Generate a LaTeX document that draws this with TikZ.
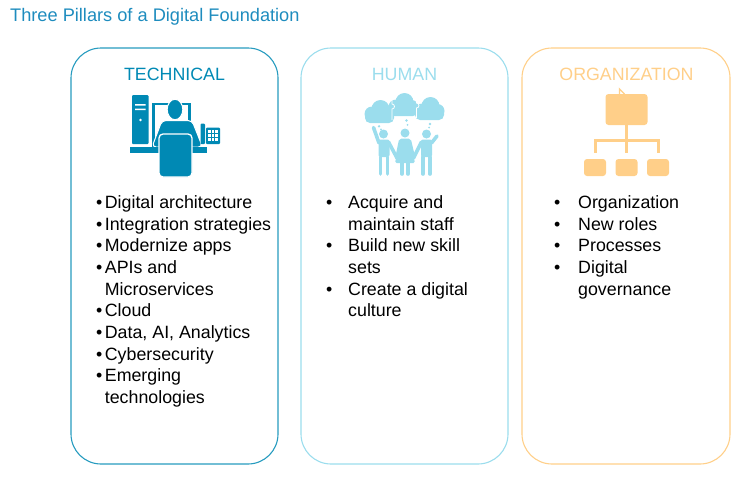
\documentclass[tikz,border=0pt]{standalone}
\usepackage{fontspec}
\setmainfont{Liberation Sans}

\definecolor{titleblue}{RGB}{30,140,190}
\definecolor{techblue}{RGB}{0,137,180}
\definecolor{humanblue}{RGB}{155,221,237}
\definecolor{orgorange}{RGB}{255,207,137}

\tikzstyle{pillar}=[rounded corners=30pt,line width=1.1pt,minimum width=207pt,minimum height=416pt,inner sep=0pt]
\tikzstyle{header}=[font=\fontsize{17.8}{21}\selectfont,anchor=base,inner sep=0pt]
\tikzstyle{bullets}=[font=\fontsize{17.8}{21.7}\selectfont,anchor=base west,inner sep=0pt]
\tikzstyle{limb}=[draw=humanblue,line width=3.6pt,line cap=round]
\tikzstyle{orgbox}=[fill=orgorange,rounded corners=3pt,inner sep=0pt]
\tikzstyle{orgline}=[draw=orgorange,line width=3pt]

\newcommand{\bul}[1]{\makebox[#1][l]{\textbullet}}

\begin{document}
\begin{tikzpicture}[x=1pt,y=-1pt]
		\useasboundingbox (0,0) rectangle (742,477);
		\node[font=\fontsize{18.2}{21}\selectfont,text=titleblue,anchor=base west,inner sep=0pt] (title) at (10,21.7) {Three Pillars of a Digital Foundation};
		% the three pillars
		\node[pillar,draw=techblue!85] (techframe) at (174.5,256) {};
		\node[pillar,draw=humanblue] (humanframe) at (404.5,256) {};
		\node[pillar,draw=orgorange,minimum width=208pt] (orgframe) at (626,256) {};
		\node[header,text=techblue] (techhead) at (174.5,80.8) {TECHNICAL};
		\node[header,text=humanblue] (humanhead) at (404.5,80.8) {HUMAN};
		\node[header,text=orgorange] (orghead) at (626.5,80.8) {ORGANIZATION};
		% technical icon
		\fill[techblue,rounded corners=1pt] (132,95) rectangle (148.5,144);
		\fill[white] (135,104) rectangle (145.5,105.5) (135,108.5) rectangle (145.5,110);
		\fill[white] (140.5,120) circle (1.3pt);
		\draw[techblue,line width=2.7pt] (153.5,104) rectangle (189.5,146);
		\filldraw[fill=techblue,draw=white,line width=1pt,rounded corners=4pt] (162,120.5) -- (192,120.5) -- (202.5,147) -- (152,147) -- cycle;
		\filldraw[fill=techblue,draw=white,line width=1pt] (175,109.5) ellipse (7.8pt and 10.2pt);
		\fill[techblue] (130,147) rectangle (207,153);
		\filldraw[fill=techblue,draw=white,line width=1.3pt,rounded corners=4pt] (159,134) rectangle (192,177);
		\fill[techblue,rounded corners=1pt] (200.5,123.5) rectangle (205,144);
		\fill[techblue,rounded corners=1pt] (206,127.5) rectangle (220,144);
		\foreach \kx in {209.5,213,216.5}
			\foreach \ky in {131.5,135.5,139.5}
				\fill[white] (\kx-1.2,\ky-1.2) rectangle (\kx+1.2,\ky+1.2);
		% human icon
		\foreach \cx/\cy in {379.5/113, 403.5/106, 429.5/110}{
			\fill[humanblue] (\cx-7.5,\cy+1) circle (7.5pt) (\cx+1,\cy-4) circle (9pt) (\cx+8,\cy+1) circle (7pt);
			\fill[humanblue,rounded corners=5pt] (\cx-14.5,\cy-1) rectangle (\cx+14.5,\cy+10);
		}
		\draw[white,line width=0.8pt] (392,98) -- (392,104) arc[start angle=90,end angle=-90,radius=2.5pt] -- (392,120);
		\draw[white,line width=0.8pt] (416.5,96) -- (416.5,103) arc[start angle=90,end angle=-90,radius=2.5pt] -- (416.5,118);
		\foreach \bx/\by/\br in {379/126.3/1.3, 381/129.3/1, 406.5/120.5/1.3, 407.5/124.8/1, 430/124/1.3, 429/127.5/1}
			\fill[humanblue] (\bx,\by) circle (\br pt);
		\fill[humanblue] (383.5,134) circle (4.5pt) (405,133) circle (4.5pt) (426.5,134) circle (4.5pt);
		\fill[humanblue,rounded corners=2pt] (378.5,139.5) rectangle (389.5,157);
		\fill[humanblue,rounded corners=1.5pt] (400,138.5) -- (410,138.5) -- (415,163) -- (395,163) -- cycle;
		\fill[humanblue,rounded corners=2pt] (421,139.5) rectangle (432,157);
		\foreach \ax/\ay/\bx/\by in {380.5/157/380.5/174, 387.5/157/387.5/174, 379/143/373.5/127.5, 388.5/142/397/158,
			402/163/402/174, 408/163/408/174, 400.5/141/397/158, 409.5/141/413.5/158,
			423/157/423/174, 430/157/430/174, 421.5/142/413.5/158, 431.5/143/437/136}
			\path[limb] (\ax,\ay) -- (\bx,\by);
		% organization icon
		\draw[orgorange,line width=1.3pt] (619.5,94) -- (619.5,89) -- (624.5,94);
		\node[orgbox,minimum width=42pt,minimum height=31pt] (boss) at (626.5,109.5) {};
		\foreach \name/\ux in {unitA/595, unitB/626.5, unitC/658}
			\node[orgbox,minimum width=22pt,minimum height=17pt] (\name) at (\ux,167.5) {};
		\draw[orgline] (boss.south) -- ++(0,15) coordinate (fork);
		\foreach \name in {unitA,unitB,unitC}
			\path[orgline,shorten >=6pt] (fork) -| (\name.north);
		% bullet lists
		\node[bullets] (techlist) at (96,208.3) {\begin{tabular}[t]{@{}l@{}l@{}}
			\bul{8.7pt} & Digital architecture\\
			\bul{8.7pt} & Integration strategies\\
			\bul{8.7pt} & Modernize apps\\
			\bul{8.7pt} & APIs and\\
			& Microservices\\
			\bul{8.7pt} & Cloud\\
			\bul{8.7pt} & Data, AI, Analytics\\
			\bul{8.7pt} & Cybersecurity\\
			\bul{8.7pt} & Emerging\\
			& technologies
		\end{tabular}};
		\node[bullets] (humanlist) at (326,208.3) {\begin{tabular}[t]{@{}l@{}l@{}}
			\bul{22pt} & Acquire and\\
			& maintain staff\\
			\bul{22pt} & Build new skill\\
			& sets\\
			\bul{22pt} & Create a digital\\
			& culture
		\end{tabular}};
		\node[bullets] (orglist) at (554,208.3) {\begin{tabular}[t]{@{}l@{}l@{}}
			\bul{24pt} & Organization\\
			\bul{24pt} & New roles\\
			\bul{24pt} & Processes\\
			\bul{24pt} & Digital\\
			& governance
		\end{tabular}};
\end{tikzpicture}
\end{document}
